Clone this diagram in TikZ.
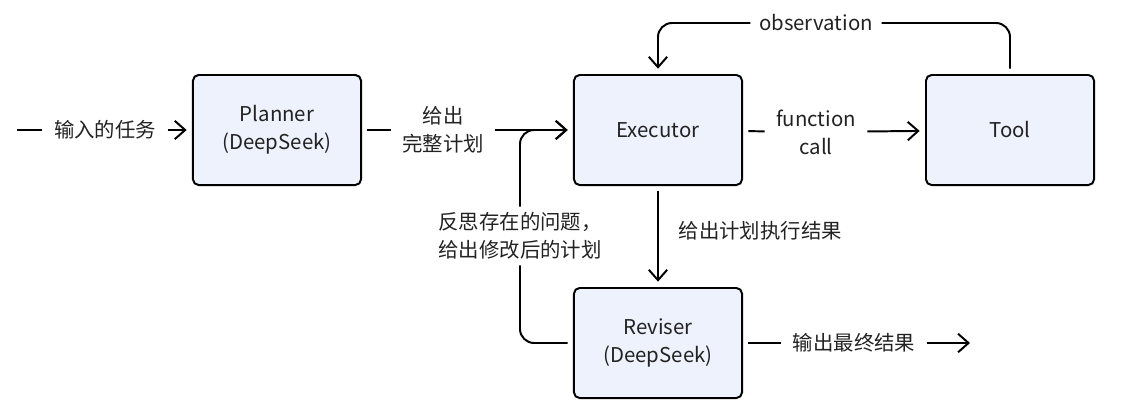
\documentclass[tikz,border=0pt]{standalone}
\usepackage{fontspec}
\setmainfont{Noto Sans CJK SC}
\usepackage{tikz}
\usetikzlibrary{arrows.meta,positioning}
\definecolor{boxblue}{RGB}{237,242,252}
\definecolor{inkgray}{RGB}{34,34,34}

\begin{document}
\begin{tikzpicture}[x=0.025cm, y=-0.025cm,
        font=\fontsize{14.5}{20}\selectfont, text=inkgray,
        agentbox/.style={rectangle, rounded corners=4pt, draw=black, fill=boxblue, line width=1.4pt, minimum width=4.2cm, minimum height=2.75cm, align=center, outer sep=4.5pt},
        tag/.style={align=center, inner sep=8pt},
        link/.style={line width=1.4pt, draw=black, rounded corners=10pt},
        flow/.style={link, -{Straight Barb[length=2.6mm, width=4.6mm, line width=1.4pt]}}]
        \path[use as bounding box] (0,0) rectangle (1140,416);
        \node [agentbox] at (277, 130) (planner)  {Planner\\(DeepSeek)};
        \node [agentbox] at (658, 130) (executor) {Executor};
        \node [agentbox] at (1010, 130) (tool)    {Tool};
        \node [agentbox] at (658, 343) (reviser)  {Reviser\\(DeepSeek)};
        \coordinate (start) at (17, 130);
        \coordinate (finish) at (970, 343);
        \node [tag] at (105, 130) (task)    {输入的任务};
        \node [tag] at (443, 130) (plan)    {给出\\完整计划};
        \node [tag] at (816, 132) (call)    {function\\call};
        \node [tag, inner sep=6pt] at (816, 23) (obs) {observation};
        \node [tag, inner sep=4pt] at (520, 236) (reflect) {反思存在的问题，\\给出修改后的计划};
        \node [tag] at (854, 343) (result)  {输出最终结果};
        \draw[link] (start) -- (task);
        \draw[flow] (task) -- (planner);
        \draw[link] (planner) -- (plan);
        \draw[flow] (plan) -- (executor);
        \draw[link] (executor) -- (call);
        \draw[flow] (call) -- (tool);
        \draw[link] (tool.north) |- (obs);
        \draw[flow] (obs) -| (executor.north);
        \draw[flow] (executor) -- node[right=10pt, yshift=4pt, inner sep=4pt] {给出计划执行结果} (reviser);
        \draw[link] (reviser.west) -| (reflect.south);
        \draw[flow] (reflect.north) |- (executor.west);
        \draw[link] (reviser) -- (result);
        \draw[flow] (result) -- (finish);
    \end{tikzpicture}
\end{document}
